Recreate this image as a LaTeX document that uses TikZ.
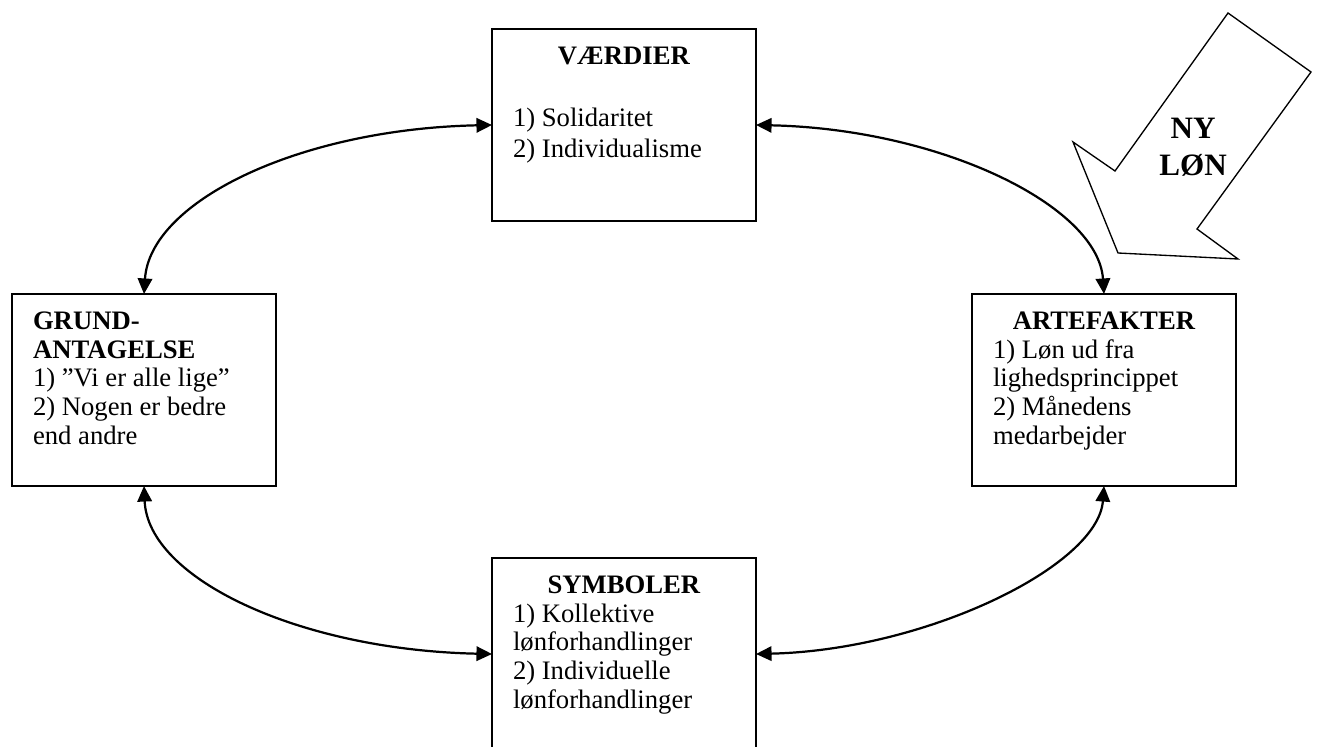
\documentclass[tikz,border=0pt]{standalone}
\usepackage{fontspec}
\setmainfont{Liberation Serif}
\usetikzlibrary{arrows.meta}
% fixed box content: top aligned
\newcommand{\kasse}[1]{\parbox[c][70.6pt][t]{99.9pt}{\fontsize{12}{13}\selectfont\raggedright #1}}

\begin{document}
\begin{tikzpicture}[
    x=0.45pt, y=-0.45pt,
    boks/.style={draw, line width=0.8pt, anchor=north west, inner xsep=9.45pt, inner ysep=7.9pt, outer sep=0pt},
    pil/.style={{Triangle[length=7pt,width=6.5pt]}-{Triangle[length=7pt,width=6.5pt]}, line width=1pt},
    storpil/.style={draw, line width=0.6pt, line join=miter}
]
    \useasboundingbox (0,0) rectangle (1317,747);
    \clip (0,0) rectangle (1317,747);

    % Boxes
    \node[boks] (vaerdier) at (492,29) {\kasse{{\centering\textbf{VÆRDIER}\par}\vspace{15pt}1) Solidaritet\\[1pt]2) Individualisme}};
    \node[boks] (grund) at (12,294) {\kasse{\textbf{GRUND-}\\\textbf{ANTAGELSE}\\1) ”Vi er alle lige”\\2) Nogen er bedre\\end andre}};
    \node[boks] (artefakter) at (972,294) {\kasse{{\centering\textbf{ARTEFAKTER}\par}1) Løn ud fra\\lighedsprincippet\\2) Månedens\\medarbejder}};
    \node[boks] (symboler) at (492,558) {\kasse{{\centering\textbf{SYMBOLER}\par}1) Kollektive\\lønforhandlinger\\2) Individuelle\\lønforhandlinger}};

    % Big arrow
    \draw[storpil] (1228,13) -- (1311,72) -- (1197,229) -- (1238,259) -- (1118,253) -- (1073,142) -- (1115,171) -- cycle;
    \node[font=\fontsize{14}{16.6}\selectfont\bfseries, align=center] (nyloen) at (1193,147) {NY\\LØN};

    % Arrows
    \draw[pil] (grund.north) .. controls +(6,-93) and +(-192,4) .. (vaerdier.west);
    \draw[pil] (vaerdier.east) .. controls +(185,4) and +(-6,-88) .. (artefakter.north);
    \draw[pil] (grund.south) .. controls +(4,93) and +(-192,-4) .. (symboler.west);
    \draw[pil] (artefakter.south) .. controls +(-6,80) and +(170,-4) .. (symboler.east);
\end{tikzpicture}
\end{document}
